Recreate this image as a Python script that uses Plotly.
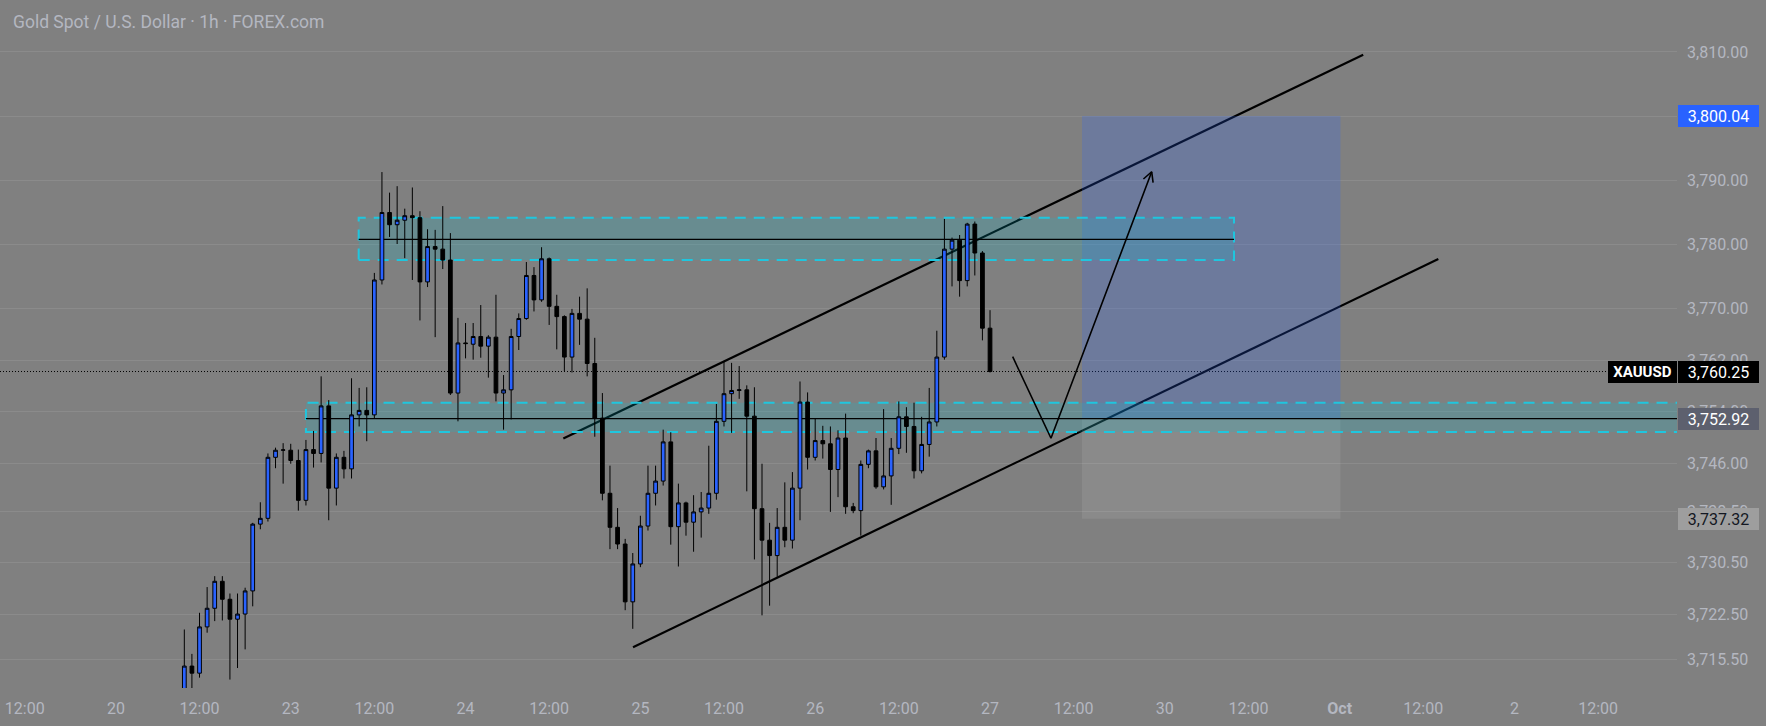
import math
import plotly.graph_objects as go

# ---------------- data ----------------
OPEN = [3709.5, 3714.4, 3713.3, 3720.5, 3723.4, 3727.6, 3724.8, 3721.7, 3722.5, 3726.1,
        3736.5, 3737.4, 3746.9, 3748.0, 3748.0, 3746.4, 3740.2, 3748.1, 3747.5, 3754.9,
        3742.1, 3746.9, 3745.1, 3753.5, 3754.2, 3753.5, 3774.5, 3785.0, 3783.1, 3783.8,
        3784.5, 3784.2, 3774.2, 3779.7, 3779.3, 3777.6, 3756.9, 3764.7, 3764.5, 3765.7,
        3764.2, 3765.6, 3756.9, 3757.4, 3765.7, 3768.5, 3775.2, 3771.4, 3777.8, 3770.4,
        3768.8, 3762.5, 3769.3, 3768.4, 3761.5, 3753.0, 3741.3, 3736.0, 3733.4, 3724.4,
        3730.3, 3736.2, 3741.3, 3743.2, 3749.3, 3736.1, 3739.8, 3736.8, 3738.4, 3739.0,
        3741.3, 3752.5, 3756.8, 3757.3, 3757.4, 3753.3, 3738.9, 3734.0, 3731.6, 3736.0,
        3734.0, 3742.1, 3755.5, 3746.9, 3749.5, 3749.0, 3745.0, 3749.9, 3739.2, 3738.6,
        3745.8, 3747.9, 3742.3, 3744.0, 3748.3, 3753.2, 3751.7, 3744.8, 3748.9, 3752.4,
        3762.5, 3779.3, 3780.7, 3774.4, 3783.2, 3778.7, 3767.0]
HIGH = [3720.1, 3716.3, 3722.7, 3726.7, 3728.4, 3728.4, 3725.7, 3725.7, 3726.6, 3736.7,
        3739.9, 3747.5, 3748.4, 3749.1, 3749.0, 3748.1, 3749.6, 3751.0, 3759.5, 3755.8,
        3747.5, 3747.9, 3759.2, 3757.7, 3757.8, 3775.6, 3791.3, 3788.1, 3789.1, 3785.6,
        3788.9, 3785.2, 3782.4, 3782.3, 3786.0, 3781.8, 3768.6, 3767.8, 3767.8, 3770.6,
        3765.9, 3772.2, 3759.7, 3766.9, 3769.3, 3777.3, 3776.5, 3779.6, 3778.0, 3772.2,
        3769.0, 3770.0, 3771.9, 3773.2, 3765.5, 3756.9, 3745.6, 3739.0, 3734.2, 3732.0,
        3737.8, 3745.6, 3745.6, 3751.2, 3750.8, 3742.8, 3740.0, 3741.0, 3741.5, 3748.7,
        3755.2, 3761.9, 3761.6, 3761.1, 3758.1, 3757.8, 3745.9, 3736.7, 3739.0, 3743.0,
        3744.6, 3758.7, 3757.0, 3752.9, 3751.8, 3751.7, 3751.1, 3753.7, 3739.8, 3746.4,
        3748.1, 3749.9, 3754.4, 3749.9, 3755.6, 3754.7, 3755.4, 3753.2, 3757.7, 3766.6,
        3784.0, 3781.1, 3781.5, 3783.4, 3783.6, 3779.0, 3769.8]
LOW = [3707.0, 3709.0, 3712.6, 3719.6, 3721.4, 3721.5, 3712.3, 3714.1, 3717.0, 3723.7,
       3735.7, 3736.9, 3745.2, 3742.8, 3745.9, 3738.6, 3739.4, 3745.3, 3746.1, 3737.1,
       3739.4, 3743.6, 3743.6, 3751.7, 3749.4, 3753.0, 3773.8, 3781.2, 3780.1, 3777.9,
       3774.5, 3768.2, 3773.4, 3765.6, 3776.2, 3756.6, 3752.5, 3762.3, 3762.1, 3762.4,
       3759.3, 3755.6, 3751.2, 3752.8, 3763.6, 3768.3, 3769.6, 3771.1, 3767.5, 3763.7,
       3760.3, 3760.1, 3764.4, 3759.5, 3750.1, 3740.2, 3732.6, 3732.6, 3723.1, 3720.2,
       3729.8, 3735.5, 3739.4, 3742.5, 3733.3, 3729.9, 3734.7, 3732.2, 3734.4, 3738.1,
       3740.3, 3751.7, 3750.7, 3756.0, 3741.6, 3731.0, 3722.3, 3723.8, 3728.3, 3732.9,
       3732.7, 3737.1, 3745.0, 3746.4, 3746.7, 3738.4, 3740.7, 3738.1, 3738.2, 3734.7,
       3745.2, 3742.0, 3741.9, 3739.5, 3747.4, 3747.6, 3743.6, 3744.4, 3747.0, 3751.7,
       3762.1, 3773.5, 3771.9, 3773.5, 3775.2, 3765.1, 3760.1]
CLOSE = [3714.4, 3713.3, 3720.5, 3723.4, 3727.6, 3724.8, 3721.7, 3722.5, 3726.1, 3736.5,
         3737.4, 3746.9, 3748.0, 3748.05, 3746.4, 3740.2, 3748.1, 3747.5, 3754.9, 3742.1,
         3746.9, 3745.1, 3753.5, 3754.2, 3753.5, 3774.5, 3785.0, 3783.1, 3783.8, 3784.5,
         3784.2, 3774.2, 3779.7, 3779.3, 3777.6, 3756.9, 3764.7, 3764.6, 3765.7, 3764.2,
         3765.6, 3756.9, 3757.4, 3765.7, 3768.5, 3775.2, 3771.4, 3777.8, 3770.4, 3768.8,
         3762.5, 3769.3, 3768.4, 3761.5, 3753.0, 3741.3, 3736.0, 3733.4, 3724.4, 3730.3,
         3736.2, 3741.3, 3743.2, 3749.3, 3736.1, 3739.8, 3736.8, 3738.4, 3739.0, 3741.3,
         3752.5, 3756.8, 3757.3, 3757.4, 3753.3, 3738.9, 3734.0, 3731.6, 3736.0, 3734.0,
         3742.1, 3755.5, 3746.9, 3749.5, 3749.0, 3745.0, 3749.9, 3739.2, 3738.6, 3745.8,
         3747.9, 3742.3, 3744.0, 3748.3, 3753.2, 3751.7, 3744.8, 3748.9, 3752.4, 3762.5,
         3779.3, 3780.7, 3774.4, 3783.2, 3778.7, 3767.0, 3760.25]
BARS = list(range(len(OPEN)))

X_TICK_POS = [-21, -9, 2, 14, 25, 37, 48, 60, 71, 83, 94, 106, 117, 129, 140, 152, 163, 175, 186]
X_TICK_TEXT = ["12:00", "20", "12:00", "23", "12:00", "24", "12:00", "25", "12:00", "26",
               "12:00", "27", "12:00", "30", "12:00", "<b>Oct</b>", "12:00", "2", "12:00"]
Y_TICK_VALS = [3810, 3800, 3790, 3780, 3770, 3762, 3754, 3746, 3738.5, 3730.5, 3722.5, 3715.5]
Y_TICK_TEXT = ["3,810.00", "3,800.00", "3,790.00", "3,780.00", "3,770.00", "3,762.00",
               "3,754.00", "3,746.00", "3,738.50", "3,730.50", "3,722.50", "3,715.50"]

LAST_PRICE = 3760.25
TARGET_PRICE = 3800.04
ENTRY_PRICE = 3752.92
STOP_PRICE = 3737.32

# drawing anchors (bar index, price)
UPPER_ZONE_X = [22.94, 138.1]
UPPER_ZONE_Y = [3777.6, 3784.2]
UPPER_ZONE_MID = 3780.83
LOWER_ZONE_X0 = 16.0
LOWER_ZONE_Y = [3750.84, 3755.4]
UPPER_CHANNEL_X = [49.86, 155.1]
UPPER_CHANNEL_Y = [3749.83, 3809.56]
LOWER_CHANNEL_X = [59.03, 164.98]
LOWER_CHANNEL_Y = [3717.33, 3777.77]
POSITION_X = [118.1, 152.1]
PATH_X = [108.98, 114.02, 127.27]
PATH_Y = [3762.56, 3749.86, 3791.35]

TITLE = "Gold Spot / U.S. Dollar · 1h · FOREX.com"
SYMBOL = "XAUUSD"

# ---------------- layout constants ----------------
W, H = 1766, 726
PLOT_W, PLOT_H = 1677, 688
X_MIN, X_MAX = -24.25, 196.38
Y_MIN, Y_MAX = 3710.99, 3818.08
BG = "#808080"
TXT = "#b4b7c0"
FONT = "Roboto"
PX_PER_BAR = PLOT_W / (X_MAX - X_MIN)
PX_PER_UNIT = PLOT_H / (Y_MAX - Y_MIN)

fig = go.Figure()
fig.add_trace(go.Candlestick(
    x=BARS, open=OPEN, high=HIGH, low=LOW, close=CLOSE,
    increasing=dict(fillcolor="#2962ff", line=dict(color="#000000", width=1)),
    decreasing=dict(fillcolor="#000000", line=dict(color="#000000", width=1)),
    whiskerwidth=0, hoverinfo="skip", showlegend=False,
))

# V path with arrow
fig.add_trace(go.Scatter(x=PATH_X, y=PATH_Y, mode="lines",
                         line=dict(color="#000000", width=1.6),
                         hoverinfo="skip", showlegend=False))
tx, ty = PATH_X[-1], PATH_Y[-1]
dxp = (PATH_X[-1] - PATH_X[-2]) * PX_PER_BAR
dyp = (PATH_Y[-1] - PATH_Y[-2]) * PX_PER_UNIT
L = math.hypot(dxp, dyp)
bx, by = -dxp / L, -dyp / L
head_x, head_y = [], []
for sgn in (1, -1):
    a = math.radians(28) * sgn
    rx = bx * math.cos(a) - by * math.sin(a)
    ry = bx * math.sin(a) + by * math.cos(a)
    head_x.append(tx + rx * 11 / PX_PER_BAR)
    head_y.append(ty + ry * 11 / PX_PER_UNIT)
fig.add_trace(go.Scatter(x=[head_x[0], tx, head_x[1]], y=[head_y[0], ty, head_y[1]],
                         mode="lines", line=dict(color="#000000", width=1.6),
                         hoverinfo="skip", showlegend=False))

shapes = []
# channel lines (under the drawings' fills)
for xs, ys in ((UPPER_CHANNEL_X, UPPER_CHANNEL_Y), (LOWER_CHANNEL_X, LOWER_CHANNEL_Y)):
    shapes.append(dict(type="line", layer="between", xref="x", yref="y",
                       x0=xs[0], x1=xs[1], y0=ys[0], y1=ys[1],
                       line=dict(color="#000000", width=2.2)))
# position tool
shapes.append(dict(type="rect", layer="between", xref="x", yref="y",
                   x0=POSITION_X[0], x1=POSITION_X[1], y0=ENTRY_PRICE, y1=TARGET_PRICE,
                   fillcolor="rgba(41,98,255,0.22)", line=dict(width=0)))
shapes.append(dict(type="rect", layer="between", xref="x", yref="y",
                   x0=POSITION_X[0], x1=POSITION_X[1], y0=STOP_PRICE, y1=ENTRY_PRICE,
                   fillcolor="rgba(255,255,255,0.08)", line=dict(width=0)))
# zones
ZONE_FILL = "rgba(0,190,212,0.19)"
ZONE_LINE = dict(color="#1fc6de", width=2, dash="11px,8px")
shapes.append(dict(type="rect", layer="between", xref="x", yref="y",
                   x0=UPPER_ZONE_X[0], x1=UPPER_ZONE_X[1], y0=UPPER_ZONE_Y[0], y1=UPPER_ZONE_Y[1],
                   fillcolor=ZONE_FILL, line=ZONE_LINE))
shapes.append(dict(type="rect", layer="between", xref="x", yref="y",
                   x0=LOWER_ZONE_X0, x1=X_MAX + 1, y0=LOWER_ZONE_Y[0], y1=LOWER_ZONE_Y[1],
                   fillcolor=ZONE_FILL, line=ZONE_LINE))
shapes.append(dict(type="line", layer="between", xref="x", yref="y",
                   x0=UPPER_ZONE_X[0], x1=UPPER_ZONE_X[1], y0=UPPER_ZONE_MID, y1=UPPER_ZONE_MID,
                   line=dict(color="#000000", width=1.2)))
shapes.append(dict(type="line", layer="between", xref="x", yref="y",
                   x0=LOWER_ZONE_X0, x1=X_MAX, y0=ENTRY_PRICE, y1=ENTRY_PRICE,
                   line=dict(color="#000000", width=1.2)))
# last price dotted line
shapes.append(dict(type="line", layer="between", xref="paper", yref="y",
                   x0=0, x1=1, y0=LAST_PRICE, y1=LAST_PRICE,
                   line=dict(color="#000000", width=1, dash="1px,2px")))

annotations = [
    dict(text=TITLE, xref="paper", yref="paper", x=11 / PLOT_W, y=1 - 22 / PLOT_H,
         xanchor="left", yanchor="middle", showarrow=False,
         font=dict(family=FONT, size=17.5, color=TXT)),
]

def price_box(value, text, bg, fg):
    return dict(text=text, xref="paper", yref="y", x=1678 / PLOT_W, y=value,
                xanchor="left", yanchor="middle", showarrow=False,
                width=81, height=22, borderpad=0, borderwidth=0, bgcolor=bg, align="center",
                font=dict(family=FONT, size=16, color=fg))

annotations.append(price_box(TARGET_PRICE, f"{TARGET_PRICE:,.2f}", "#2962ff", "#ffffff"))
annotations.append(price_box(LAST_PRICE, f"{LAST_PRICE:,.2f}", "#000000", "#ffffff"))
annotations.append(price_box(ENTRY_PRICE, f"{ENTRY_PRICE:,.2f}", "#5d606e", "#ffffff"))
annotations.append(price_box(STOP_PRICE, f"{STOP_PRICE:,.2f}", "#9e9e9e", "#131722"))
annotations.append(dict(text=f"<b>{SYMBOL}</b>", xref="paper", yref="y", x=1676.5 / PLOT_W, y=LAST_PRICE,
                        xanchor="right", yanchor="middle", showarrow=False,
                        width=69, height=22, borderpad=0, borderwidth=0, bgcolor="#000000",
                        align="center", font=dict(family=FONT, size=15, color="#ffffff")))

fig.update_layout(
    width=W, height=H,
    margin=dict(l=0, r=W - PLOT_W, t=0, b=H - PLOT_H, pad=0),
    paper_bgcolor=BG, plot_bgcolor=BG,
    showlegend=False, hovermode=False,
    shapes=shapes, annotations=annotations,
    xaxis=dict(range=[X_MIN, X_MAX], showgrid=False, zeroline=False, showline=False,
               tickmode="array", tickvals=X_TICK_POS, ticktext=X_TICK_TEXT, ticks="",
               ticklabelstandoff=9, tickfont=dict(family=FONT, size=16, color=TXT),
               rangeslider=dict(visible=False), fixedrange=True),
    yaxis=dict(range=[Y_MIN, Y_MAX], side="right", showgrid=True, gridcolor="#8b8b8b", gridwidth=1,
               zeroline=False, showline=False, tickmode="array", tickvals=Y_TICK_VALS,
               ticktext=Y_TICK_TEXT, ticks="", ticklabelstandoff=9,
               tickfont=dict(family=FONT, size=16, color=TXT), fixedrange=True),
)

fig.write_html("out.html", config={"displayModeBar": False})
